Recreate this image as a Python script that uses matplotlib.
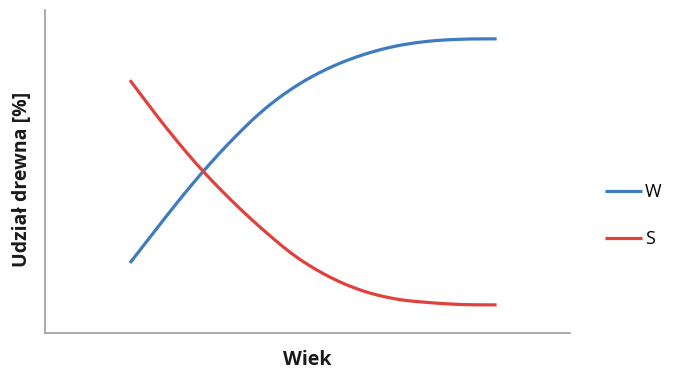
import matplotlib
matplotlib.use("Agg")
import matplotlib.pyplot as plt
import numpy as np

# Age steps (arbitrary units) and wood share [%] for the two series
wiek = [0, 1, 2, 3, 4, 5, 6, 7, 8, 9, 10, 11]
udzial_w = [21.7, 35.0, 47.7, 59.1, 69.0, 76.6, 82.2, 86.2, 88.9, 90.4, 91.0, 91.1]
udzial_s = [78.3, 64.7, 52.3, 41.5, 31.9, 23.5, 17.3, 13.0, 10.5, 9.4, 8.8, 8.7]
series_labels = ["W", "S"]


def smooth(x, y, n=20):
    """Catmull-Rom curve through the points (like a spreadsheet 'smoothed line')."""
    x = np.asarray(x, float)
    y = np.asarray(y, float)
    px = np.concatenate([[2 * x[0] - x[1]], x, [2 * x[-1] - x[-2]]])
    py = np.concatenate([[2 * y[0] - y[1]], y, [2 * y[-1] - y[-2]]])
    xs, ys = [], []
    t = np.linspace(0, 1, n, endpoint=False)
    for i in range(1, len(px) - 2):
        for arr, out in ((px, xs), (py, ys)):
            p0, p1, p2, p3 = arr[i - 1], arr[i], arr[i + 1], arr[i + 2]
            out.extend(0.5 * ((2 * p1) + (-p0 + p2) * t
                              + (2 * p0 - 5 * p1 + 4 * p2 - p3) * t ** 2
                              + (-p0 + 3 * p1 - 3 * p2 + p3) * t ** 3))
    xs.append(x[-1])
    ys.append(y[-1])
    return np.array(xs), np.array(ys)


plt.rcParams["font.family"] = ["Open Sans", "DejaVu Sans"]

fig = plt.figure(figsize=(6.76, 3.69), dpi=100)
ax = fig.add_axes([0.0666, 0.0976, 0.776, 0.875])

for vals, col, lab in ((udzial_w, "#3f7bc1", series_labels[0]),
                       (udzial_s, "#e0413d", series_labels[1])):
    sx, sy = smooth(wiek, vals)
    ax.plot(sx, sy, color=col, lw=2.3, solid_capstyle="butt", label=lab)

ax.set_xlim(-2.55, 13.19)
ax.set_ylim(0, 100)
ax.set_xticks([])
ax.set_yticks([])
for side in ("top", "right"):
    ax.spines[side].set_visible(False)
for side in ("left", "bottom"):
    ax.spines[side].set_color("#a6a6a6")
    ax.spines[side].set_linewidth(1.3)

ax.set_xlabel("Wiek", fontsize=14, fontweight="bold", color="#1a1a1a", labelpad=12)
ax.set_ylabel("Udział drewna [%]", fontsize=14, fontweight="bold", color="#1a1a1a")
ax.yaxis.set_label_coords(-0.024, 0.475)

ax.legend(loc="center left", bbox_to_anchor=(0.885, 0.415), bbox_transform=fig.transFigure,
          frameon=False, fontsize=13, handlelength=2.0, handletextpad=0.2,
          labelspacing=1.6, borderaxespad=0)

fig.savefig("out.png", dpi=100, facecolor="white")
